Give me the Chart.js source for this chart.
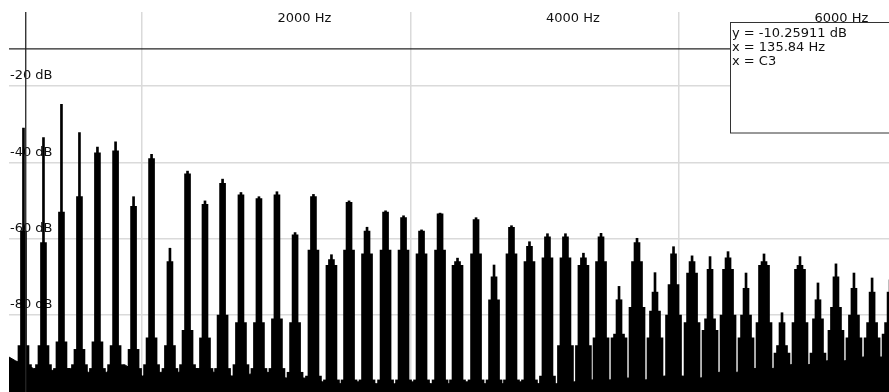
<!DOCTYPE html>
<html>
<head>
<meta charset="utf-8">
<script src="https://cdn.jsdelivr.net/npm/chart.js@4.4.1/dist/chart.umd.min.js"></script>
<style>
  html, body { margin: 0; padding: 0; background: #fff; }
  #wrap { width: 889px; height: 392px; position: relative; }
</style>
</head>
<body>
<div id="wrap"><canvas id="spectrum" width="889" height="392"></canvas></div>
<script>
// Harmonic components of the spectrum (frequency in Hz, levels in dB)
const harmonicHz = [119, 268, 402, 536, 670, 805, 939, 1073, 1210, 1341, 1471, 1602, 1739, 1873, 2007, 2142,
  2279, 2413, 2544, 2678, 2816, 2950, 3084, 3222, 3352, 3490, 3624, 3754, 3888, 4022, 4156, 4290,
  4421, 4555, 4689, 4823, 4961, 5099, 5233, 5367, 5501, 5635, 5769, 5903, 6037, 6171, 6305, 6440, 6574];

// level of each harmonic's narrow tip
const peakDb = [-31, -33.5, -24.8, -32.2, -36.0, -34.6, -49.0, -37.9, -62.5, -42.3, -50.1, -44.4, -47.9, -49.0, -47.7, -58.4,
  -48.4, -64.2, -50.1, -57.0, -52.7, -54.0, -57.7, -53.3, -65.1, -54.5, -66.9, -56.6, -60.8, -58.7, -58.7, -63.8,
  -58.6, -72.5, -59.9, -68.9, -62.1, -64.5, -64.7, -63.4, -69.0, -64.0, -79.4, -64.7, -71.6, -66.6, -69.0, -70.3, -70.8];

// level where the harmonic's main lobe begins
const bodyDb = [-58, -61, -53, -49, -37.5, -37, -51.5, -39, -66, -43, -51, -45.5, -48.5, -49.5, -48.5, -59,
  -49, -65.5, -50.5, -58, -53, -54.5, -58, -53.5, -66, -55, -70, -57, -62, -59.5, -59.5, -65,
  -59.5, -76, -61, -74, -64, -66, -68, -65, -73, -66, -82, -67, -76, -70, -73, -74, -74];

// level where the lobe spreads into its skirt
const skirtDb = [-88, -88, -87, -89, -87, -88, -89, -86, -88, -84, -86, -80, -82, -82, -81, -82,
  -63, -67, -63, -64, -63, -63, -64, -63, -67, -64, -76, -64, -66, -65, -65, -67,
  -66, -85, -66, -79, -72, -69, -81, -68, -80, -67, -88, -68, -81, -78, -80, -82, -82];

// level of the widest base of each lobe
const footDb = [-93, -93, -94, -93, -94, -93, -94, -93, -94, -93, -94, -94, -93, -94, -94, -95,
  -96, -97, -97, -97, -97, -97, -97, -97, -97, -97, -97, -97, -97, -96, -88, -88,
  -86, -86, -78, -86, -80, -82, -84, -80, -86, -82, -90, -82, -90, -84, -86, -86, -85];

// noise floor between the harmonics
const noiseHz = [11, 60, 194, 335, 469, 603, 737, 872, 1006, 1143, 1277, 1404, 1538, 1672, 1806, 1940, 2074, 2209,
  2343, 2477, 2611, 2745, 2883, 3017, 3155, 3289, 3423, 3557, 3691, 3825, 3959, 4093, 4227, 4354, 4488, 4622,
  4756, 4890, 5032, 5166, 5300, 5434, 5568, 5702, 5836, 5970, 6104, 6238, 6372, 6507, 6566];
const noiseDb = [-91, -92, -94, -94.5, -94, -95, -95, -93, -96, -95, -95, -94, -95, -96, -95.5, -95, -96.5, -96.5,
  -97.5, -98, -97.5, -98, -98, -97.5, -98, -98, -97.5, -98, -98, -97.5, -98, -98, -97.5, -97, -97, -96.5,
  -97, -96, -96, -96.5, -95, -95, -94, -94, -93, -93, -92, -92, -91, -91, -91];

// axis ticks
const xTicks = [2000, 4000, 6000];
const yTicks = [-100, -80, -60, -40, -20];

// cursor readout
const cursorHz = 135.84;
const cursorDb = -10.25911;
const cursorNote = 'C3';

const FLOOR = -105;
const INK = '#000';

function lobe(levels) {
  return harmonicHz.map((hz, i) => ({ x: hz, y: [FLOOR, levels[i]] }));
}

function barSet(levels, thickness) {
  return {
    type: 'bar',
    data: lobe(levels),
    barThickness: thickness,
    grouped: false,
    backgroundColor: INK,
    borderWidth: 0
  };
}

const cursorPlugin = {
  id: 'cursorReadout',
  afterDatasetsDraw(chart) {
    const { ctx, chartArea, scales } = chart;
    const px = scales.x.getPixelForValue(cursorHz);
    const py = scales.y.getPixelForValue(cursorDb);
    const boxLeft = 730.5, boxTop = 22.5, boxW = 170, boxH = 110.5;

    ctx.save();
    ctx.strokeStyle = '#262626';
    ctx.lineWidth = 1.3;
    ctx.beginPath();
    ctx.moveTo(px, chartArea.top);
    ctx.lineTo(px, chartArea.bottom);
    ctx.moveTo(chartArea.left, py);
    ctx.lineTo(boxLeft, py);
    ctx.stroke();

    ctx.fillStyle = '#fff';
    ctx.fillRect(boxLeft, boxTop, boxW, boxH);
    ctx.strokeStyle = '#333';
    ctx.lineWidth = 1;
    ctx.strokeRect(boxLeft, boxTop, boxW, boxH);

    const lines = [
      'y = ' + cursorDb.toFixed(5) + ' dB',
      'x = ' + cursorHz.toFixed(2) + ' Hz',
      'x = ' + cursorNote
    ];
    ctx.fillStyle = '#111';
    ctx.font = '13px "DejaVu Sans"';
    ctx.textAlign = 'left';
    ctx.textBaseline = 'middle';
    lines.forEach((t, i) => ctx.fillText(t, boxLeft + 1.5, 33.5 + i * 14.2));
    ctx.restore();
  }
};

const labelFont = { family: 'DejaVu Sans', size: 13, lineHeight: 1.0 };

new Chart(document.getElementById('spectrum'), {
  type: 'bar',
  data: {
    datasets: [
      barSet(peakDb, 2),
      barSet(bodyDb, 6),
      barSet(skirtDb, 11),
      barSet(footDb, 16),
      {
        type: 'line',
        data: noiseHz.map((hz, i) => ({ x: hz, y: noiseDb[i] })),
        borderColor: INK,
        borderWidth: 1,
        backgroundColor: INK,
        fill: 'start',
        pointRadius: 0,
        tension: 0
      }
    ]
  },
  options: {
    responsive: false,
    animation: false,
    devicePixelRatio: 1,
    events: [],
    layout: { padding: { left: 7, top: 12, right: 0, bottom: 0 } },
    plugins: { legend: { display: false }, tooltip: { enabled: false } },
    scales: {
      x: {
        type: 'linear',
        position: 'top',
        min: 11.17,
        max: 6566,
        offset: false,
        border: { display: false },
        grid: { color: '#dadada', lineWidth: 1.5, drawTicks: false },
        afterBuildTicks: s => { s.ticks = xTicks.map(v => ({ value: v })); },
        afterFit: s => { s.paddingLeft = 0; s.paddingRight = 0; },
        ticks: {
          mirror: true,
          padding: 0,
          align: 'start',
          labelOffset: 1.5,
          maxRotation: 0,
          autoSkip: false,
          color: '#111',
          font: labelFont,
          callback: v => v + ' Hz'
        }
      },
      y: {
        type: 'linear',
        position: 'left',
        min: -100.17,
        max: -0.61,
        border: { display: false },
        grid: { color: '#dadada', lineWidth: 1.5, drawTicks: false },
        afterBuildTicks: s => { s.ticks = yTicks.map(v => ({ value: v })); },
        afterFit: s => { s.paddingTop = 0; s.paddingBottom = 0; },
        ticks: {
          mirror: true,
          padding: 1,
          labelOffset: -10,
          autoSkip: false,
          color: '#111',
          font: labelFont,
          callback: v => v + ' dB'
        }
      }
    }
  },
  plugins: [cursorPlugin]
});
</script>
</body>
</html>
